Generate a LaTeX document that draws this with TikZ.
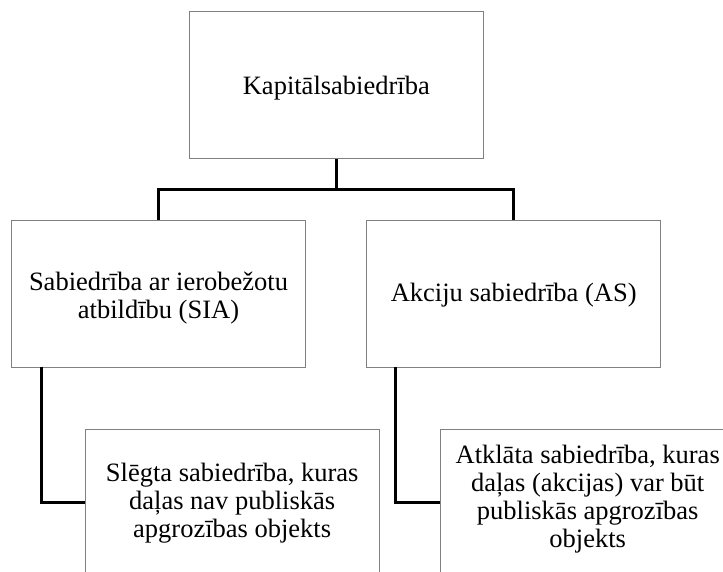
\documentclass[tikz,border=0pt]{standalone}
\usepackage{fontspec}
\setmainfont{Liberation Serif}
\begin{document}
\begin{tikzpicture}[x=1pt,y=-1pt,
  box/.style={draw=black!50,line width=1pt,minimum width=294pt,minimum height=147pt,
    inner sep=0pt},
  lbl/.style={inner sep=0pt,align=center,font=\fontsize{26.5}{28}\selectfont},
  conn/.style={draw=black,line width=3pt}]
\useasboundingbox (0,0) rectangle (723,572);
\clip (0,0) rectangle (723,572);
\node[box] (top) at (336.3,85.3) {};
\node[box] (sia) at (158.5,294) {};
\node[box] (as) at (513.7,294) {};
\node[box] (sl) at (232.2,502.5) {};
\node[box] (at) at (587.7,502.5) {};
\node[lbl] (ttop) at ([yshift=-3pt]top.center) {Kapitālsabiedrība};
\node[lbl] (tsia) at ([yshift=-4pt]sia.center) {Sabiedrība ar ierobežotu\\atbildību (SIA)};
\node[lbl] (tas) at ([yshift=-1pt]as.center) {Akciju sabiedrība (AS)};
\node[lbl] (tsl) at ([yshift=-1pt]sl.center) {Slēgta sabiedrība, kuras\\daļas nav publiskās\\apgrozības objekts};
\node[lbl] (tat) at ([yshift=3pt]at.center) {Atklāta sabiedrība, kuras\\daļas (akcijas) var būt\\publiskās apgrozības\\objekts};
\coordinate (j) at (336.3,190);
\coordinate (siab) at (41.7,367.3);
\coordinate (asb) at (395.7,367.3);
\draw[conn] (top.south) -- (j);
\draw[conn] (j) -| (sia.north);
\draw[conn] (j) -| (as.north);
\draw[conn] (siab) |- (sl.west);
\draw[conn] (asb) |- (at.west);
\end{tikzpicture}
\end{document}
